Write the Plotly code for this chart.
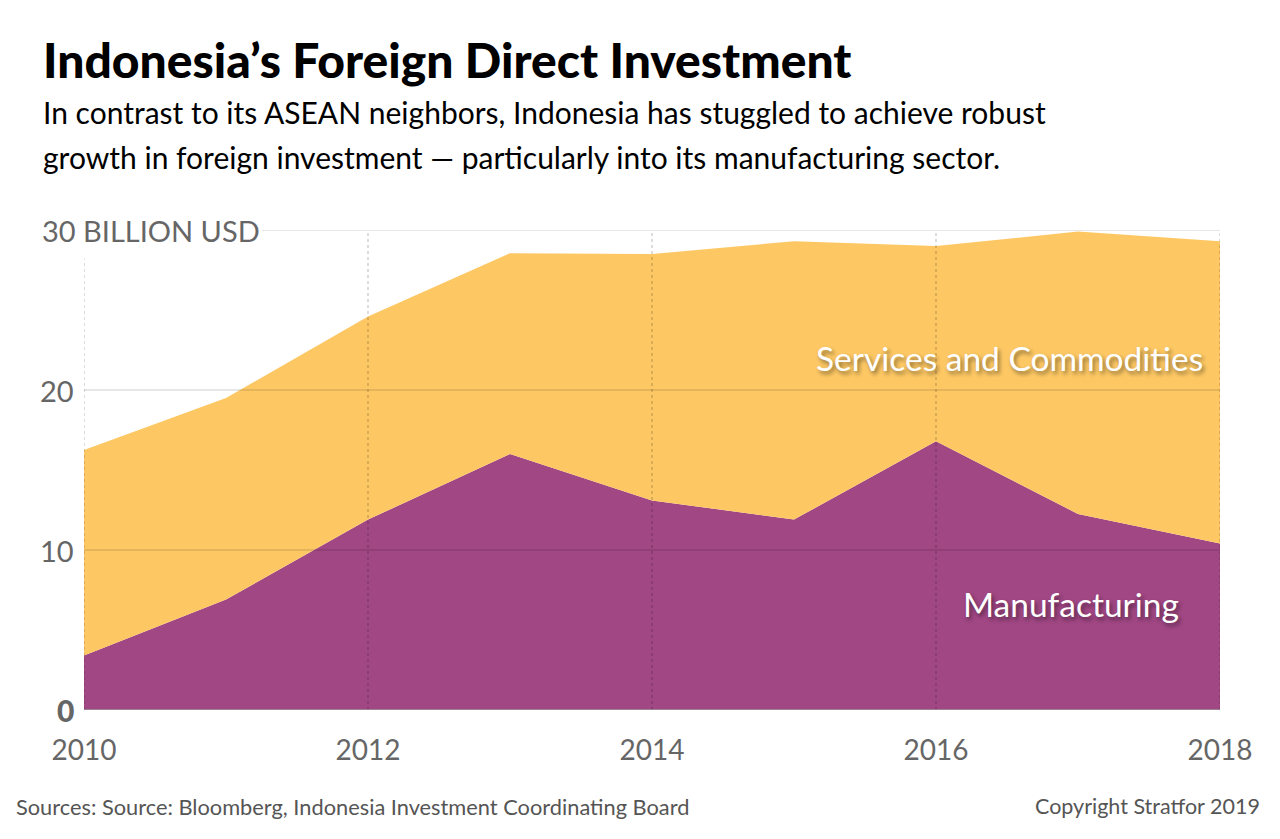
import plotly.graph_objects as go

years = [2010, 2011, 2012, 2013, 2014, 2015, 2016, 2017, 2018]
manufacturing = [3.4, 6.9, 11.9, 16.0, 13.1, 11.9, 16.8, 12.25, 10.4]
services = [12.85, 12.6, 12.7, 12.55, 15.4, 17.4, 12.2, 17.65, 18.9]
x_ticks = [2010, 2012, 2014, 2016, 2018]
y_ticks = [0, 10, 20, 30]
y_labels = ["0", "10", "20", "30 BILLION USD"]

PURPLE = "#A14784"
YELLOW = "#FDC864"
GRAY = "#666666"
FONT = "Lato"

# pixel helpers for paper-coordinate placement (plot area: x 84..1220, y 230..710)
def px(x):
    return (x - 84) / 1136.0

def py(y):
    return (710 - y) / 480.0

fig = go.Figure()
fig.add_trace(go.Scatter(x=years, y=manufacturing, name="Manufacturing", stackgroup="one",
                         mode="lines", line=dict(width=0, color=PURPLE), fillcolor=PURPLE,
                         hoverinfo="x+y"))
fig.add_trace(go.Scatter(x=years, y=services, name="Services and Commodities", stackgroup="one",
                         mode="lines", line=dict(width=0, color=YELLOW), fillcolor=YELLOW,
                         hoverinfo="x+y"))

shapes = []
for v in y_ticks[1:]:
    x0 = 0.0 if v != 30 else px(262)
    shapes.append(dict(type="line", xref="paper", yref="y", x0=x0, x1=1, y0=v, y1=v,
                       line=dict(color="rgba(0,0,0,0.2)", width=1.2), layer="above"))
for xv in x_ticks:
    top = 30 if xv != 2010 else 28.2
    shapes.append(dict(type="line", xref="x", yref="y", x0=xv, x1=xv, y0=0, y1=top,
                       line=dict(color="rgba(0,0,0,0.28)", width=1, dash="dot"), layer="above"))
shapes.append(dict(type="line", xref="paper", yref="y", x0=0, x1=1, y0=0, y1=0,
                   line=dict(color="#999999", width=1.5), layer="above"))

annotations = []
for v, lab in zip(y_ticks, y_labels):
    if v == 30:
        annotations.append(dict(x=px(40), xref="paper", y=v, yref="y", text=lab, showarrow=False,
                                xanchor="left", yanchor="middle",
                                font=dict(family=FONT, size=29, color=GRAY)))
    else:
        annotations.append(dict(x=px(76), xref="paper", y=v, yref="y", text=lab, showarrow=False,
                                xanchor="right", yanchor="middle",
                                font=dict(family=FONT, size=29 if v else 30, color=GRAY,
                                          weight=900 if v == 0 else 400)))

label_font = dict(family=FONT, size=33.5, color="white", shadow="2px 3px 4px rgba(0,0,0,0.45)")
annotations.append(dict(x=2010 + (1009 - 84) / 142.0, xref="x", y=22.0, yref="y",
                        text="Services and Commodities", showarrow=False,
                        xanchor="center", yanchor="middle", font=label_font))
annotations.append(dict(x=2010 + (1071 - 84) / 142.0, xref="x", y=6.6, yref="y",
                        text="Manufacturing", showarrow=False,
                        xanchor="center", yanchor="middle", font=label_font))

annotations.append(dict(x=px(41), xref="paper", y=py(60), yref="paper",
                        text="Indonesia’s Foreign Direct Investment", showarrow=False,
                        xanchor="left", yanchor="middle",
                        font=dict(family=FONT, size=48, color="black", weight=900)))
annotations.append(dict(x=px(41), xref="paper", y=py(112), yref="paper",
                        text="In contrast to its ASEAN neighbors, Indonesia has stuggled to achieve robust",
                        showarrow=False, xanchor="left", yanchor="middle",
                        font=dict(family=FONT, size=30, color="black")))
annotations.append(dict(x=px(41), xref="paper", y=py(157), yref="paper",
                        text="growth in foreign investment — particularly into its manufacturing sector.",
                        showarrow=False, xanchor="left", yanchor="middle",
                        font=dict(family=FONT, size=30, color="black")))
annotations.append(dict(x=px(14), xref="paper", y=py(806), yref="paper",
                        text="Sources: Source: Bloomberg, Indonesia Investment Coordinating Board",
                        showarrow=False, xanchor="left", yanchor="middle",
                        font=dict(family=FONT, size=21.8, color="#555555")))
annotations.append(dict(x=px(1262), xref="paper", y=py(806), yref="paper",
                        text="Copyright Stratfor 2019",
                        showarrow=False, xanchor="right", yanchor="middle",
                        font=dict(family=FONT, size=21.5, color="#555555")))

fig.update_layout(
    width=1280, height=839,
    margin=dict(l=84, r=60, t=230, b=129),
    paper_bgcolor="white", plot_bgcolor="white",
    showlegend=False,
    font=dict(family=FONT),
    xaxis=dict(range=[2010, 2018], tickvals=x_ticks, ticktext=[str(t) for t in x_ticks],
               showgrid=False, zeroline=False, showline=False, ticks="",
               tickfont=dict(family=FONT, size=28, color=GRAY), ticklabelstandoff=21),
    yaxis=dict(range=[0, 30], showgrid=False, zeroline=False, showline=False,
               showticklabels=False, ticks=""),
    shapes=shapes,
    annotations=annotations,
)

fig.write_html("out.html")
